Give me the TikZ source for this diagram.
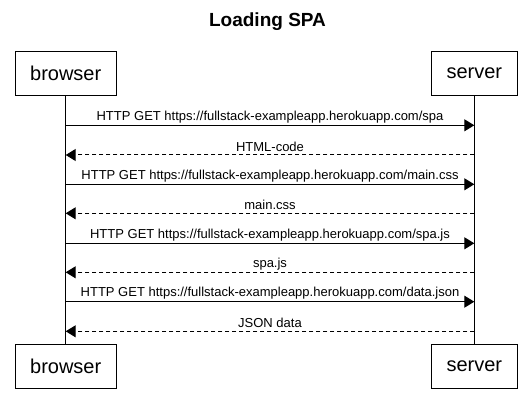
\documentclass[tikz,border=0pt]{standalone}
\usepackage{fontspec}
\setmainfont{Liberation Sans}
\usetikzlibrary{arrows.meta}
\begin{document}
\begin{tikzpicture}[x=1pt,y=-1pt,
  actor/.style={draw,line width=1pt,minimum height=44pt,inner sep=0pt,font=\fontsize{20}{24}\selectfont},
  lifeline/.style={line width=1pt},
  msg/.style={line width=1pt,-{Triangle[length=10pt,width=12pt]}},
  reply/.style={msg,dash pattern=on 4pt off 3pt},
  lbl/.style={midway,yshift=8.5pt,inner sep=0pt,font=\fontsize{13}{15}\selectfont}]
\useasboundingbox (0,0) rectangle (532,414);
\node[font=\bfseries\fontsize{19}{23}\selectfont] (title) at (267.5,21.5) {Loading SPA};
\node[actor,minimum width=101pt] (bt) at (65.7,73.7) {browser};
\node[actor,minimum width=85.6pt] (st) at (474.3,73.7) {server};
\node[actor,minimum width=101pt] (bb) at (65.7,366.7) {browser};
\node[actor,minimum width=85.6pt] (sb) at (474.3,366.7) {server};
\draw[lifeline] (bt.south) -- (bb.north);
\draw[lifeline] (st.south) -- (sb.north);
\foreach \i/\y in {1/125.3,2/155,3/184.3,4/213.3,5/243.3,6/272.3,7/301.7,8/331.3}{
  \coordinate (b\i) at (65.7,\y);
  \coordinate (s\i) at (474.3,\y);
}
\draw[msg] (b1) -- (s1) node[lbl] {HTTP GET https://fullstack-exampleapp.herokuapp.com/spa};
\draw[reply] (s2) -- (b2) node[lbl] {HTML-code};
\draw[msg] (b3) -- (s3) node[lbl] {HTTP GET https://fullstack-exampleapp.herokuapp.com/main.css};
\draw[reply] (s4) -- (b4) node[lbl] {main.css};
\draw[msg] (b5) -- (s5) node[lbl] {HTTP GET https://fullstack-exampleapp.herokuapp.com/spa.js};
\draw[reply] (s6) -- (b6) node[lbl] {spa.js};
\draw[msg] (b7) -- (s7) node[lbl] {HTTP GET https://fullstack-exampleapp.herokuapp.com/data.json};
\draw[reply] (s8) -- (b8) node[lbl] {JSON data};
\end{tikzpicture}
\end{document}
